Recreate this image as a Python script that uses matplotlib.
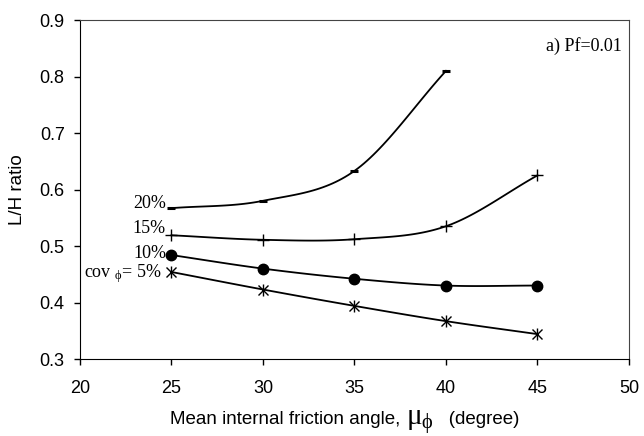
import numpy as np
import matplotlib.pyplot as plt
from matplotlib.offsetbox import TextArea, HPacker, AnchoredOffsetbox

plt.rcParams['mathtext.fontset'] = 'custom'
plt.rcParams['mathtext.rm'] = 'Liberation Serif'
plt.rcParams['mathtext.it'] = 'Liberation Serif:italic'

# data
angle = [25, 30, 35, 40, 45]
cov5 = [0.454, 0.423, 0.394, 0.367, 0.344]
cov10 = [0.484, 0.460, 0.442, 0.430, 0.430]
cov15 = [0.519, 0.511, 0.512, 0.535, 0.625]
angle20 = [25, 30, 35, 40]
cov20 = [0.567, 0.580, 0.633, 0.810]


def smooth(x, y, n=30):
    # Catmull-Rom curve through the points (like Excel smoothed lines)
    x = np.asarray(x, float)
    y = np.asarray(y, float)
    px = np.concatenate([[2 * x[0] - x[1]], x, [2 * x[-1] - x[-2]]])
    py = np.concatenate([[2 * y[0] - y[1]], y, [2 * y[-1] - y[-2]]])
    xs, ys = [], []
    t = np.linspace(0, 1, n)
    for i in range(1, len(px) - 2):
        for p, out in ((px, xs), (py, ys)):
            p0, p1, p2, p3 = p[i - 1], p[i], p[i + 1], p[i + 2]
            out.extend(0.5 * (2 * p1 + (-p0 + p2) * t
                              + (2 * p0 - 5 * p1 + 4 * p2 - p3) * t ** 2
                              + (-p0 + 3 * p1 - 3 * p2 + p3) * t ** 3))
    return xs, ys


fig = plt.figure(figsize=(6.44, 4.36), dpi=100)
ax = fig.add_axes([0.1242, 0.1766, 0.8525, 0.7775])

series = [(angle, cov5, [dict(marker='x', ms=7, mew=1), dict(marker='|', ms=9, mew=1)]),
          (angle, cov10, [dict(marker='o', ms=7.5)]),
          (angle, cov15, [dict(marker='+', ms=9, mew=1)]),
          (angle20, cov20, [dict(marker='_', ms=6, mew=2.2)])]
for xv, yv, marks in series:
    sx, sy = smooth(xv, yv)
    ax.plot(sx, sy, color='black', lw=1.3)
    for mk in marks:
        ax.plot(xv, yv, ls='none', color='black', **mk)

ax.set_xlim(20, 50)
ax.set_ylim(0.3, 0.9)
ax.set_xticks([20, 25, 30, 35, 40, 45, 50])
ax.set_yticks([0.3, 0.4, 0.5, 0.6, 0.7, 0.8, 0.9])
ax.set_yticklabels(['0.3', '0.4', '0.5', '0.6', '0.7', '0.8', '0.9'])
ax.tick_params(labelsize=13, direction='out', length=4, width=1)
ax.tick_params(axis='x', pad=11)
ax.tick_params(axis='y', pad=7)
for lab in ax.get_xticklabels() + ax.get_yticklabels():
    lab.set_family('Liberation Sans')
for s in ['top', 'right']:
    ax.spines[s].set_color('#444444')

ax.set_ylabel('L/H ratio', fontsize=13.5, family='Liberation Sans', labelpad=10)

# x label with a large mu
sans = dict(family='Liberation Sans', fontsize=13.5, color='black')
label = HPacker(children=[TextArea('Mean internal friction angle, ', textprops=sans),
                          TextArea(r'$\mathrm{\mu_{\phi}}$', textprops=dict(fontsize=21)),
                          TextArea('   (degree)', textprops=sans)],
                align='baseline', pad=0, sep=0)
box = AnchoredOffsetbox(loc='center', child=label, frameon=False, pad=0,
                        bbox_to_anchor=(345 / 644, 1 - 419 / 436),
                        bbox_transform=fig.transFigure, borderpad=0)
fig.add_artist(box)

serif = dict(family='Liberation Serif', fontsize=13, color='black', ha='right')
ax.text(24.7, 0.567, '20%', **serif)
ax.text(24.7, 0.523, '15%', **serif)
ax.text(24.7, 0.479, '10%', **serif)
ax.text(24.48, 0.445, r'cov $_{\mathrm{\phi}}$= 5%', **serif)
ax.text(49.62, 0.845, 'a) Pf=0.01', **serif)

fig.savefig('out.png', dpi=100)
